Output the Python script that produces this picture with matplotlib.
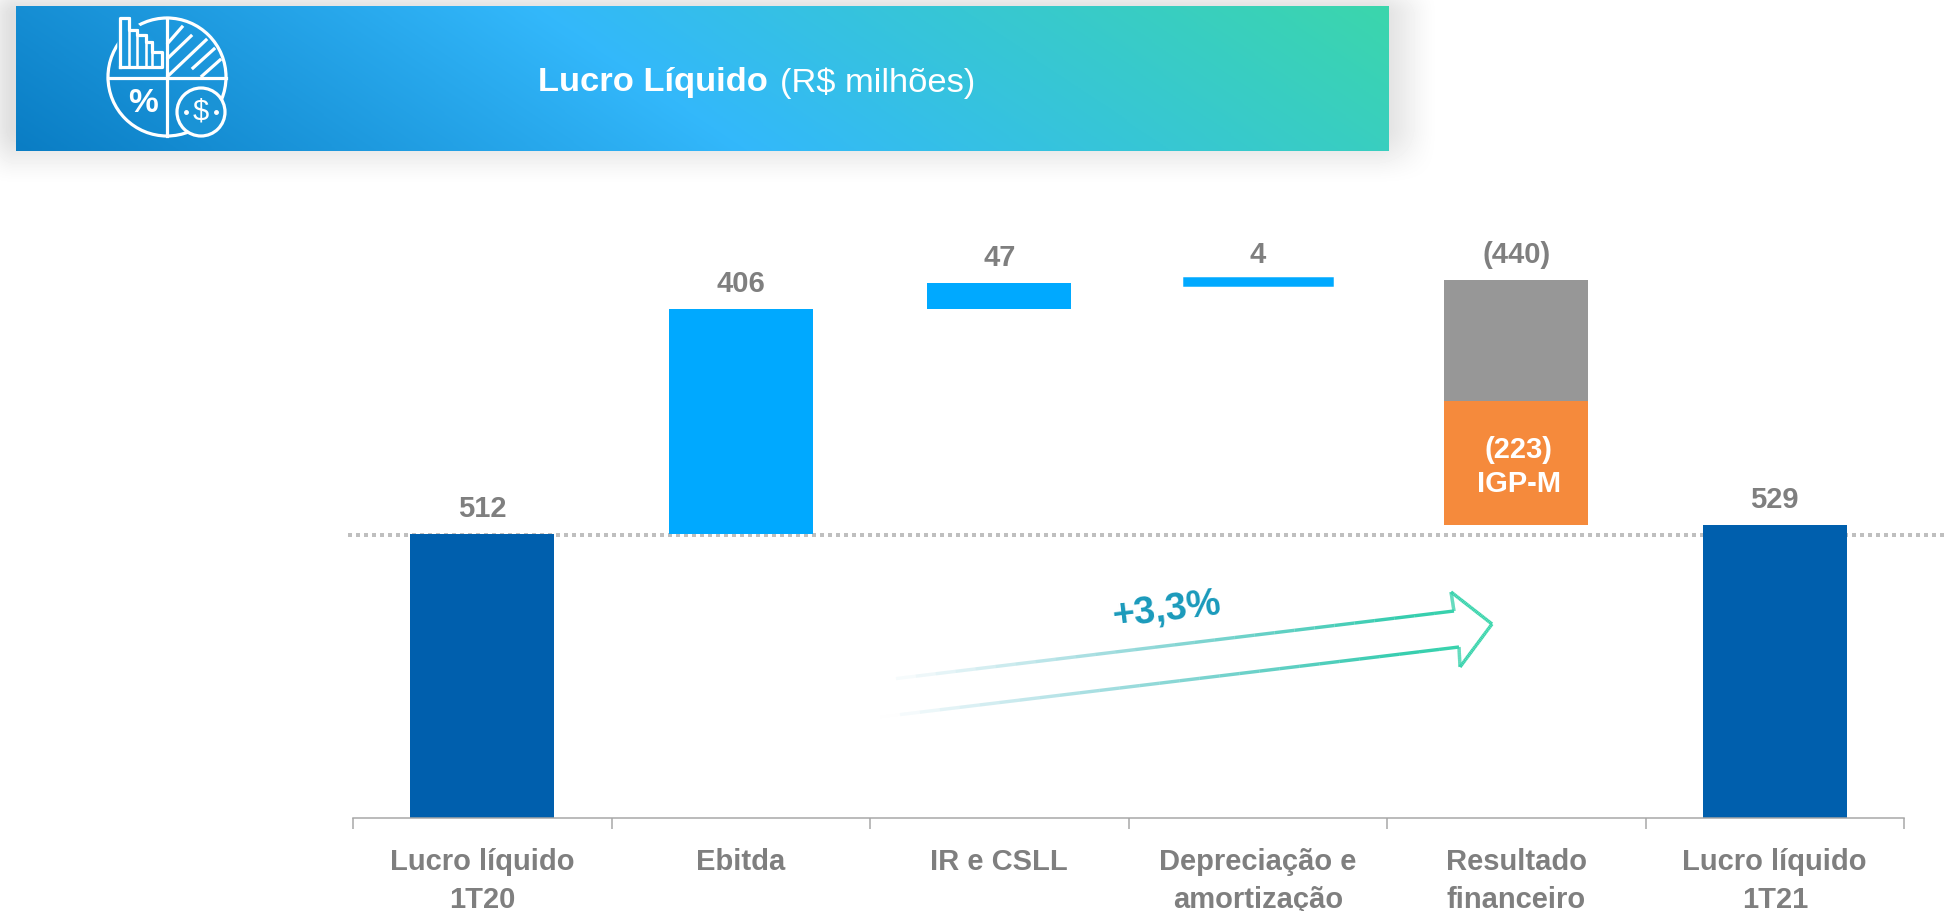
#!/usr/bin/env python3

import numpy as np
import matplotlib
matplotlib.use('Agg')
import matplotlib.pyplot as plt
from matplotlib.collections import LineCollection
from matplotlib.colors import LinearSegmentedColormap, to_rgb
from matplotlib.patches import Circle

plt.rcParams['font.family'] = ['Liberation Sans', 'DejaVu Sans']

# chart values
categories = ['Lucro líquido\n1T20', 'Ebitda', 'IR e CSLL',
              'Depreciação e\namortização', 'Resultado\nfinanceiro', 'Lucro líquido\n1T21']
start_value = 512
ebitda = 406
ir_csll = 47
deprec = 4
financeiro = -440
igpm = -223
end_value = 529
value_labels = ['512', '406', '47', '4', '(440)', '529']

NAVY = '#005fad'
SKY = '#00a9ff'
GREY = '#979797'
ORANGE = '#f58a3c'
TEXT = '#7f7f7f'

W, H = 1947, 911
PX = 72 / 100  # one pixel in points


def smooth(v):
	v = np.clip(v, 0, 1)
	return v * v * (3 - 2 * v)


# header band with its soft shadow and gradient
def draw_header(bg):
	xx, yy = np.meshgrid(np.arange(0, 1500), np.arange(0, 220))
	fx = smooth((xx + 25) / 40) * smooth((1442 - xx) / 70)
	fy = smooth((yy + 25) / 40) * smooth((188 - yy) / 62)
	shadow = 1 - 0.125 * fx * fy
	bg.imshow(shadow, extent=(0, 1500, 220, 0), cmap='gray', vmin=0, vmax=1,
		aspect='auto', zorder=1, interpolation='bilinear')

	x0, x1, y0, y1 = 16, 1389, 6, 151
	xx, yy = np.meshgrid(np.linspace(x0, x1, 500), np.linspace(y0, y1, 80))
	t = xx - 1.455 * (yy - y0)
	t = (t + 195) / (1389 + 195)
	cmap = LinearSegmentedColormap.from_list('band', [
		(0, '#0a7dc4'), (729 / 1584, '#33b8fb'), (1, '#3bd6ac')])
	bg.imshow(t, extent=(x0, x1, y1, y0), cmap=cmap, vmin=0, vmax=1,
		aspect='auto', zorder=2, interpolation='bilinear')

	bg.text(538, 83, 'Lucro Líquido', color='white', fontsize=24.8, fontweight='bold',
		va='center', ha='left', zorder=5)
	bg.text(780, 83, '(R$ milhões)', color='white', fontsize=24.8,
		va='center', ha='left', zorder=5)


# white pie icon in the header
def draw_icon(bg):
	lw = 3.2 * PX
	cx, cy, r = 167, 77, 59
	pie = Circle((cx, cy), r, fill=False, ec='white', lw=lw, zorder=5)
	bg.add_patch(pie)
	bg.plot([cx, cx], [cy - r, cy + r], color='white', lw=lw, zorder=5)
	bg.plot([cx - r, cx + r], [cy + 1, cy + 1], color='white', lw=lw, zorder=5)

	# small bars, blue behind them hides the circle
	bg.fill([118, 118, 130, 164, 164], [68, 17, 17, 50, 68], color='#1b97dc', zorder=5)
	sx = [120, 120, 129, 129, 137, 137, 146, 146, 152, 152, 162, 162, 120]
	sy = [67, 18, 18, 30, 30, 35, 35, 42, 42, 52, 52, 67, 67]
	bg.plot(sx, sy, color='white', lw=lw, zorder=6)
	for x, top in [(129, 18), (137, 30), (146, 35), (152, 42)]:
		bg.plot([x, x], [top, 66], color='white', lw=lw * 0.8, zorder=6)

	# hatch in the top right quarter
	hatch = [((168, 43), (182, 27)), ((168, 58), (191, 36)), ((168, 76), (206, 40)),
		((193, 68), (214, 49)), ((202, 76), (220, 60))]
	for a, b in hatch:
		bg.plot([a[0], b[0]], [a[1], b[1]], color='white', lw=lw, zorder=5)

	coin = Circle((201, 112), 24, fc='#1a93d6', ec='white', lw=lw, zorder=6)
	bg.add_patch(coin)
	bg.text(201, 112, '$', color='white', fontsize=21, ha='center', va='center', zorder=7)
	bg.plot([186, 216], [112, 112], ls='none', marker='o', ms=2.5, color='white', zorder=7)
	bg.text(143, 103, '%', color='white', fontsize=24, fontweight='bold', ha='center',
		va='center', zorder=6)


# outline arrow that fades to the left
def draw_arrow(bg):
	xs = [876, 1454, 1451, 1492, 1460, 1459, 880]
	ys = [681, 611, 592, 624, 667, 647, 717]
	pts = []
	for i in range(len(xs) - 1):
		for k in np.linspace(0, 1, 30):
			pts.append((xs[i] + (xs[i + 1] - xs[i]) * k, ys[i] + (ys[i + 1] - ys[i]) * k))
	pts = np.array(pts)
	segs = np.stack([pts[:-1], pts[1:]], axis=1)
	c_left = np.array(to_rgb('#1a9abb'))
	c_right = np.array(to_rgb('#3bd6ac'))
	colors = []
	for s in segs:
		k = (s[:, 0].mean() - 876) / (1492 - 876)
		colors.append(tuple(c_left + (c_right - c_left) * k) + (min(1, max(0, k - 0.02) * 1.2),))
	bg.add_collection(LineCollection(segs, colors=colors, linewidths=3.4 * PX, zorder=3))
	bg.text(1167, 610, '+3,3%', color='#1a9abb', fontsize=27.5, fontweight='bold',
		rotation=7, ha='center', va='center', zorder=4, rotation_mode='anchor')


def main():
	fig = plt.figure(figsize=(W / 100, H / 100), dpi=100, facecolor='white')

	# layer in pixel coordinates for the decoration
	bg = fig.add_axes([0, 0, 1, 1], zorder=0)
	bg.set_xlim(0, W)
	bg.set_ylim(H, 0)
	bg.axis('off')
	draw_header(bg)
	draw_icon(bg)
	bg.set_xlim(0, W)
	bg.set_ylim(H, 0)
	draw_arrow(bg)

	# chart axes, baseline at y=818, 0.5547 px per unit
	top_val = (818 - 100) / 0.5547
	ax = fig.add_axes([353 / W, (H - 818) / H, 1551 / W, 718 / H], zorder=1)
	ax.patch.set_alpha(0)
	ax.set_xlim(-0.5, 5.5)
	ax.set_ylim(0, top_val)
	for s in ['top', 'left', 'right']:
		ax.spines[s].set_visible(False)
	ax.spines['bottom'].set_color('#a6a6a6')
	ax.spines['bottom'].set_linewidth(1.5 * PX)
	ax.set_yticks([])

	# dotted reference at the starting profit
	ax.axhline(start_value - 1, xmin=-0.003, xmax=1.03, color='#bfbfbf', lw=4 * PX,
		dashes=(1, 1), clip_on=False, zorder=1)

	width = 0.557
	x = np.arange(len(categories))
	run = start_value
	ax.bar(0, start_value, width, color=NAVY, zorder=2)
	ax.bar(1, ebitda, width, bottom=run, color=SKY, zorder=2)
	run += ebitda
	ax.bar(2, ir_csll, width, bottom=run, color=SKY, zorder=2)
	run += ir_csll
	# the thin bar has an edge or it would not show
	ax.bar(3, deprec, width, bottom=run, color=SKY, ec=SKY, lw=6.5 * PX, zorder=2)
	run += deprec
	fin_bottom = run + financeiro
	ax.bar(4, -(financeiro - igpm), width, bottom=fin_bottom - igpm, color=GREY, zorder=2)
	ax.bar(4, -igpm, width, bottom=fin_bottom, color=ORANGE, zorder=2)
	ax.bar(5, end_value, width, color=NAVY, zorder=2)

	# value labels
	tops = [start_value, start_value + ebitda, start_value + ebitda + ir_csll, run, run, end_value]
	for i, label in enumerate(value_labels):
		ax.annotate(label, (x[i], tops[i]), xytext=(0, 25 * PX), textcoords='offset points',
			ha='center', va='center', color=TEXT, fontsize=21, fontweight='bold', zorder=5)
	ax.text(4.01, fin_bottom - igpm / 2 - 8, '(223)\nIGP-M', color='white', fontsize=21,
		fontweight='bold', ha='center', va='center', zorder=5, linespacing=1.28)

	# labels centred under the bars, ticks on the category limits
	ax.set_xticks(x)
	ax.set_xticklabels(categories, color=TEXT, fontsize=21, fontweight='bold', linespacing=1.47)
	ax.tick_params(axis='x', which='major', length=0, pad=30 * PX)
	ax.set_xticks(np.arange(-0.5, 6, 1), minor=True)
	ax.tick_params(axis='x', which='minor', length=11 * PX, width=1.5 * PX, color='#a6a6a6')

	fig.savefig('out.png', dpi=100)


if __name__ == '__main__':
	main()
